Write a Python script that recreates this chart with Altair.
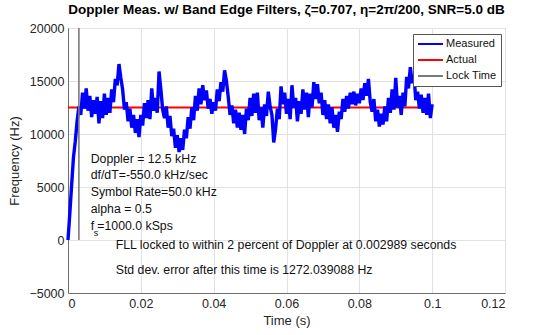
import altair as alt
import pandas as pd

# ---------------- data ----------------
SAMPLE_STEP = 0.0005  # seconds between plotted samples
measured = [
    0, 2500, 5200, 7800, 9300, 11200, 12600, 11800, 13900, 12400,
    14300, 12200, 13600, 11600, 13200, 11900, 13500, 11000, 13100, 11500,
    13800, 11800, 13400, 12000, 14200, 13000, 15200, 14600, 16600, 15300,
    14200, 12300, 13000, 11200, 12400, 10600, 11800, 10100, 11400, 9700,
    11800, 10800, 12900, 11500, 13200, 11400, 14300, 12200, 13400, 12000,
    15900, 14200, 12300, 11500, 12600, 10600, 11700, 9800, 10500, 8700,
    9900, 8300, 9600, 8500, 10400, 9600, 11600, 10500, 12500, 11300,
    13600, 12200, 14300, 12800, 14600, 13200, 14100, 12400, 13300, 11900,
    13000, 12200, 14200, 13100, 14900, 14000, 16000, 15000, 13500, 11800,
    12700, 11000, 12300, 10600, 12000, 10400, 11800, 10000, 12400, 11300,
    13400, 11700, 13800, 12000, 13900, 11300, 12500, 10600, 12800, 11700,
    14000, 12600, 11800, 9200, 10500, 12400, 11400, 14500, 12800, 13900,
    11900, 13300, 11400, 14600, 12500, 13400, 11200, 13100, 11900, 14200,
    12300, 13900, 11600, 13800, 12500, 14900, 13300, 14700, 12900, 13900,
    11800, 13200, 11400, 12800, 11000, 12500, 10600, 11800, 10200, 12100,
    11400, 13300, 12100, 13600, 12400, 13900, 12800, 14000, 12700, 13800,
    12900, 14300, 13200, 14800, 13600, 15200, 13000, 12100, 13300, 11200,
    12300, 10700, 11900, 10900, 12600, 11200, 13400, 12000, 14200, 12300,
    15300, 12500, 13600, 11800, 13900, 12600, 15400, 14300, 16300, 14800,
    15600, 13200, 14000, 12400, 13700, 12000, 13400, 11800, 13800, 11500,
    12800,
]
measured_t = [round(i * SAMPLE_STEP, 4) for i in range(len(measured))]

actual_t = [0.0, 0.1]
actual_v = [12500, 12500]

lock_t = [0.002989, 0.002989]
lock_v = [0, 20000]

series_names = ["Measured", "Actual", "Lock Time"]
series_colors = ["#0000ff", "#ff0000", "#7a7a7a"]

x_ticks = [0, 0.02, 0.04, 0.06, 0.08, 0.1, 0.12]
y_ticks = [-5000, 0, 5000, 10000, 15000, 20000]

info_lines = ["Doppler = 12.5 kHz", "df/dT=-550.0 kHz/sec", "Symbol Rate=50.0 kHz", "alpha = 0.5"]
info_v = [7670, 6132, 4500, 2924]
info_t = [0.00623, 0.00623, 0.00623, 0.00623]

lock_lines = ["FLL locked to within 2 percent of Doppler at 0.002989 seconds",
              "Std dev. error after this time is 1272.039088 Hz"]
lock_line_v = [-472, -2830]
lock_line_t = [0.0131, 0.0131]

title = "Doppler Meas. w/ Band Edge Filters, ζ=0.707, η=2π/200, SNR=5.0 dB"

# ---------------- frames ----------------
df_meas = pd.DataFrame({"t": measured_t, "v": measured, "series": "Measured"})
df_act = pd.DataFrame({"t": actual_t, "v": actual_v, "series": "Actual"})
df_lock = pd.DataFrame({"t": lock_t, "v": lock_v, "series": "Lock Time"})
df_info = pd.DataFrame({"t": info_t, "v": info_v, "label": info_lines})
df_fs = pd.DataFrame({"t": [0.00623], "v": [1321], "label": ["f"]})
df_fs_sub = pd.DataFrame({"t": [0.0071], "v": [640], "label": ["s"]})
df_fs_rest = pd.DataFrame({"t": [0.00805], "v": [1321], "label": ["=1000.0 kSps"]})
df_lockt = pd.DataFrame({"t": lock_line_t, "v": lock_line_v, "label": lock_lines})

FONT = "Liberation Sans"

x_enc = alt.X("t:Q", scale=alt.Scale(domain=[0, 0.12], nice=False, zero=False),
              axis=alt.Axis(values=x_ticks, format="~g", title="Time (s)",
                            labelPadding=4, titlePadding=5))
y_enc = alt.Y("v:Q", scale=alt.Scale(domain=[-5000, 20000], nice=False, zero=False),
              axis=alt.Axis(values=y_ticks, format="d", title="Frequency (Hz)",
                            labelPadding=4, titlePadding=7))
color_enc = alt.Color(
    "series:N",
    scale=alt.Scale(domain=series_names, range=series_colors),
    legend=alt.Legend(
        title=None, orient="none", legendX=345, legendY=6,
        symbolType="stroke", symbolSize=625, symbolStrokeWidth=2,
        labelFont=FONT, labelFontSize=11, labelColor="#111111",
        fillColor="white", strokeColor="#555555", padding=4,
        clipHeight=12, rowPadding=4, labelOffset=2, labelLimit=120,
    ),
)

actual_layer = alt.Chart(df_act).mark_line(strokeWidth=2.2).encode(x=x_enc, y=y_enc, color=color_enc)
meas_layer = alt.Chart(df_meas).mark_line(strokeWidth=3.4).encode(
    x=x_enc, y=y_enc, color=color_enc, order="t:Q")
lock_layer = alt.Chart(df_lock).mark_line(strokeWidth=1.6).encode(x=x_enc, y=y_enc, color=color_enc)

text_kw = dict(align="left", baseline="middle", font=FONT, fontSize=12.3, color="#111111")
info_layer = alt.Chart(df_info).mark_text(**text_kw).encode(x="t:Q", y="v:Q", text="label:N")
fs_layer = alt.Chart(df_fs).mark_text(**text_kw).encode(x="t:Q", y="v:Q", text="label:N")
fs_sub_layer = alt.Chart(df_fs_sub).mark_text(
    align="left", baseline="middle", font=FONT, fontSize=9, color="#111111"
).encode(x="t:Q", y="v:Q", text="label:N")
fs_rest_layer = alt.Chart(df_fs_rest).mark_text(**text_kw).encode(x="t:Q", y="v:Q", text="label:N")
lockt_layer = alt.Chart(df_lockt).mark_text(**text_kw).encode(x="t:Q", y="v:Q", text="label:N")

chart = alt.layer(
    actual_layer, meas_layer, lock_layer,
    info_layer, fs_layer, fs_sub_layer, fs_rest_layer, lockt_layer,
).properties(
    width=437, height=265,
    title=alt.TitleParams(text=title, font=FONT, fontSize=13.5, fontWeight="bold",
                          anchor="middle", offset=6, color="#000000"),
    autosize=alt.AutoSizeParams(type="none"),
    padding={"left": 68, "top": 28, "right": 51, "bottom": 42},
    background="white",
).configure_view(
    stroke="#6e6e6e", strokeWidth=1,
).configure_axis(
    domainColor="#6e6e6e", gridColor="#e2e2e2", ticks=False,
    labelFont=FONT, labelFontSize=12.5, labelColor="#262626",
    titleFont=FONT, titleFontSize=13, titleFontWeight="normal", titleColor="#262626",
)

chart.save("out.html", embed_options={"renderer": "svg", "actions": False})
